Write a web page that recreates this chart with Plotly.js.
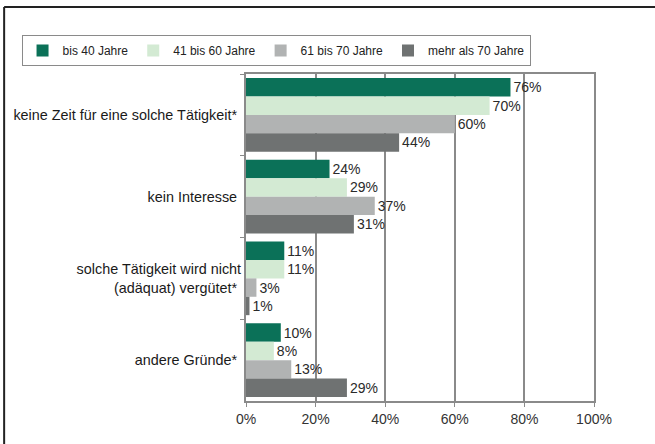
<!DOCTYPE html>
<html><head><meta charset="utf-8">
<script src="https://cdn.plot.ly/plotly-3.0.1.min.js"></script>
<style>html,body{margin:0;padding:0;background:#fff}#c{width:655px;height:444px}</style>
</head><body><div id="c"></div>
<script>
const categories = ["keine Zeit für eine solche Tätigkeit*", "kein Interesse", "solche Tätigkeit wird nicht<br>(adäquat) vergütet*", "andere Gründe*"];
const seriesNames = ["bis 40 Jahre", "41 bis 60 Jahre", "61 bis 70 Jahre", "mehr als 70 Jahre"];
const bis40 = [76, 24, 11, 10];
const bis60 = [70, 29, 11, 8];
const bis70 = [60, 37, 3, 13];
const ueber70 = [44, 31, 1, 29];
const xTicks = [0, 20, 40, 60, 80, 100];
const xTickLabels = ["0%", "20%", "40%", "60%", "80%", "100%"];
const colors = ["#0b7158", "#d3ead3", "#b1b3b3", "#6f7272"];

const values = [bis40, bis60, bis70, ueber70];
const traces = values.map((v, i) => ({
  type: "bar", orientation: "h", name: seriesNames[i],
  x: v, y: categories,
  marker: {color: colors[i]},
  text: v.map(n => n + "%"), textposition: "outside", cliponaxis: false,
  textfont: {family: "Liberation Sans, Arial, sans-serif", size: 14, color: "#2a2a2a"},
  hoverinfo: "x+name"
}));

const layout = {
  width: 655, height: 444,
  margin: {l: 246, r: 61, t: 74, b: 43},
  paper_bgcolor: "#fff", plot_bgcolor: "#fff",
  barmode: "group", bargap: 0.1, bargroupgap: 0,
  font: {family: "Liberation Sans, Arial, sans-serif", size: 14, color: "#1a1a1a"},
  showlegend: true,
  legend: {orientation: "h", x: -0.645, y: 1.119, xanchor: "left", yanchor: "top",
    bordercolor: "#8a8a8a", borderwidth: 1, bgcolor: "#fff",
    font: {size: 12, color: "#222"}, itemwidth: 30, traceorder: "normal"},
  xaxis: {range: [0, 100], tickvals: xTicks, ticktext: xTickLabels,
    showgrid: true, gridcolor: "#8a8a8a", gridwidth: 1.5,
    showline: true, linecolor: "#8a8a8a", linewidth: 2, mirror: true,
    ticks: "outside", ticklen: 4, tickcolor: "#8a8a8a", zeroline: false,
    tickfont: {size: 14, color: "#333"}, fixedrange: true},
  yaxis: {autorange: "reversed", type: "category",
    showline: true, linecolor: "#8a8a8a", linewidth: 2, mirror: true,
    ticks: "outside", tickson: "boundaries", ticklen: 4, tickcolor: "#8a8a8a",
    showgrid: false, ticksuffix: " ", tickfont: {size: 14.4, color: "#1a1a1a"}, fixedrange: true},
  shapes: [
    {type: "line", xref: "paper", yref: "paper", x0: -0.695, x1: 1.2, y0: 1.205, y1: 1.205, line: {color: "#222", width: 2}},
    {type: "line", xref: "paper", yref: "paper", x0: -0.695, x1: -0.695, y0: 1.205, y1: -0.14, line: {color: "#222", width: 2}}
  ]
};
Plotly.newPlot("c", traces, layout, {displayModeBar: false});
</script></body></html>
